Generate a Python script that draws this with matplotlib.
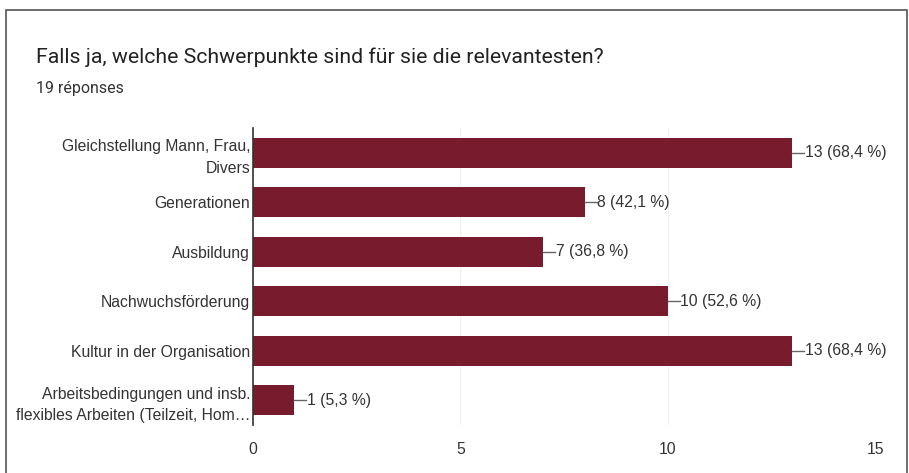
import matplotlib
matplotlib.use('Agg')
import matplotlib.pyplot as plt
from matplotlib.patches import Rectangle

# Data
categories = [
    "Gleichstellung Mann, Frau,\nDivers",
    "Generationen",
    "Ausbildung",
    "Nachwuchsförderung",
    "Kultur in der Organisation",
    "Arbeitsbedingungen und insb.\nflexibles Arbeiten (Teilzeit, Hom…",
]
counts = [13, 8, 7, 10, 13, 1]
total = 19
xticks = [0, 5, 10, 15]

plt.rcParams['font.family'] = ['Liberation Sans', 'DejaVu Sans']

BAR_COLOR = '#781c2d'
TEXT_COLOR = '#333333'
LABEL_FS = 11.3

fig = plt.figure(figsize=(9.09, 4.73), dpi=100)
fig.patch.set_facecolor('white')

# card border
fig.patches.append(Rectangle((6 / 909, -0.05), 901 / 909, 1 - 10 / 473 + 0.05,
                             transform=fig.transFigure, fill=False,
                             edgecolor='#555555', linewidth=1.2))

fig.text(36 / 909, 1 - 57 / 473, "Falls ja, welche Schwerpunkte sind für sie die relevantesten?",
         fontsize=15.3, color='#222222', va='center', family=['Roboto', 'DejaVu Sans'])
fig.text(36 / 909, 1 - 88 / 473, "19 réponses", fontsize=11.5, color='#333333', va='center',
         family=['Roboto', 'DejaVu Sans'])

ax = fig.add_axes([253 / 909, 1 - 425 / 473, (875 - 253) / 909, (425 - 128) / 473])
y = list(range(len(categories)))
ax.barh(y, counts, height=0.6, color=BAR_COLOR, zorder=3)

for yi, c in zip(y, counts):
    ax.plot([c, c + 0.29], [yi, yi], color='#666666', linewidth=1, zorder=3)
    pct = f"{c / total * 100:.1f}".replace('.', ',')
    ax.text(c + 0.3, yi, f"{c} ({pct} %)", va='center', ha='left',
            fontsize=LABEL_FS, color=TEXT_COLOR)

ax.set_xlim(0, 15)
ax.set_ylim(len(categories) - 0.5, -0.5)
ax.set_yticks(y)
ax.set_yticklabels(categories, fontsize=LABEL_FS, color=TEXT_COLOR, linespacing=1.55)
ax.set_xticks(xticks)
ax.set_xticklabels([str(t) for t in xticks], fontsize=LABEL_FS, color=TEXT_COLOR)
ax.tick_params(axis='y', length=0, pad=2)
ax.tick_params(axis='x', length=0, pad=12)
ax.grid(axis='x', color='#f0f0f0', linewidth=0.8, zorder=0)
for s in ['top', 'right', 'bottom']:
    ax.spines[s].set_visible(False)
ax.spines['left'].set_color('#333333')
ax.spines['left'].set_linewidth(1.2)
ax.spines['left'].set_zorder(4)

fig.savefig('out.png', dpi=100)
